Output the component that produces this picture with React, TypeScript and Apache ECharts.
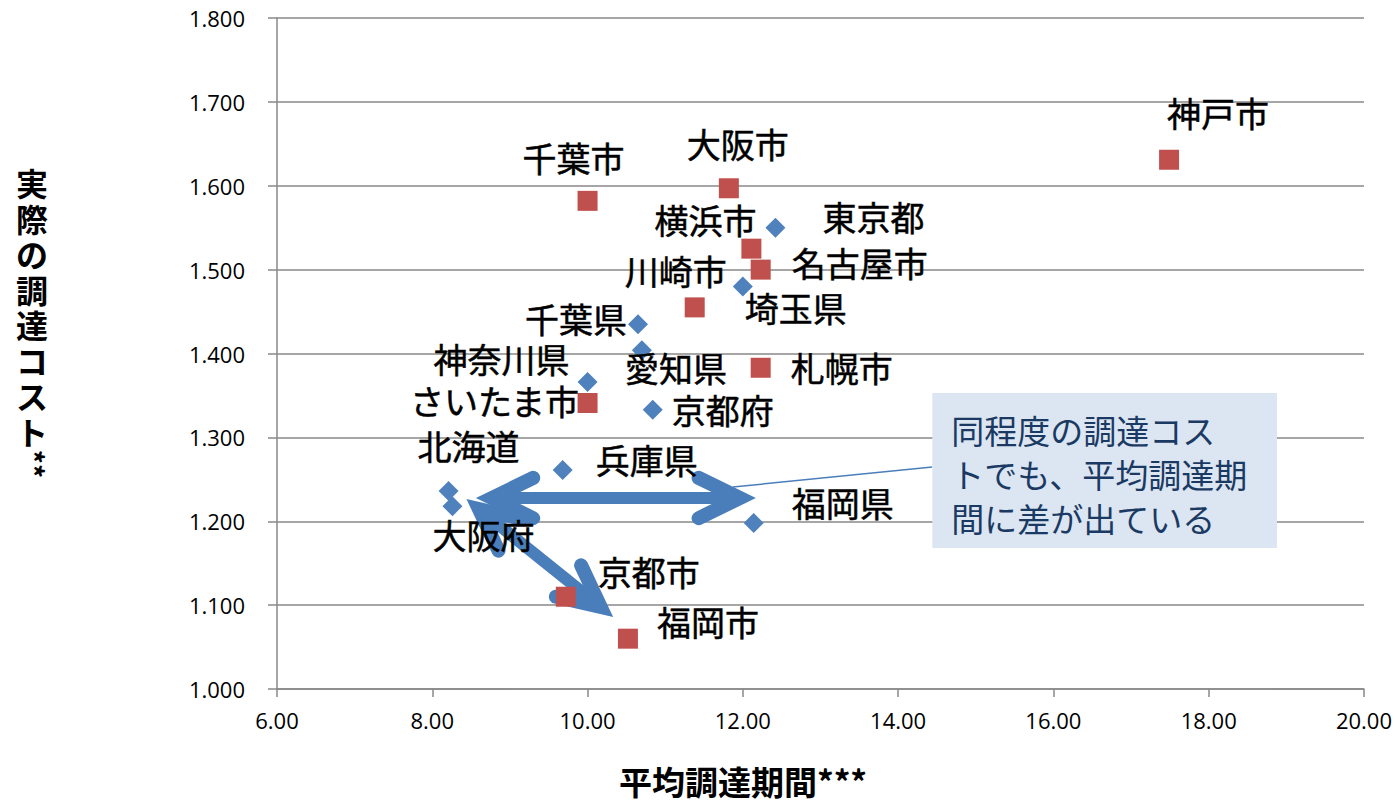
import React, { useEffect, useRef } from 'react';
import * as echarts from 'echarts';

// 都道府県（青・ひし形）
const prefNames = ['東京都', '埼玉県', '千葉県', '愛知県', '神奈川県', '京都府', '兵庫県', '北海道', '大阪府', '福岡県'];
const prefPeriod = [12.42, 12.0, 10.65, 10.7, 10.0, 10.84, 9.68, 8.21, 8.26, 12.14];
const prefCost = [1.55, 1.48, 1.435, 1.404, 1.366, 1.333, 1.261, 1.236, 1.218, 1.198];

// 政令市（赤・四角）
const cityNames = ['神戸市', '千葉市', '大阪市', '横浜市', '名古屋市', '川崎市', '札幌市', 'さいたま市', '京都市', '福岡市'];
const cityPeriod = [17.49, 10.0, 11.82, 12.11, 12.23, 11.38, 12.23, 10.0, 9.72, 10.52];
const cityCost = [1.631, 1.582, 1.597, 1.525, 1.5, 1.455, 1.383, 1.341, 1.11, 1.06];

const xAxisTitle = '平均調達期間***';
const yAxisTitleChars = ['実', '際', 'の', '調', '達', 'コ', 'ス', 'ト'];
const yAxisTitleTail = '**';
const calloutLines = ['同程度の調達コス', 'トでも、平均調達期', '間に差が出ている'];

// label placement (pixel offsets from each marker centre)
const labelOffsets: Record<string, [number, number]> = {
  東京都: [98, -11],
  埼玉県: [53, 21],
  千葉県: [-62, -6],
  愛知県: [34, 17],
  神奈川県: [-86, -24],
  京都府: [70, 0],
  兵庫県: [84, -11],
  北海道: [20, -46],
  大阪府: [31, 28],
  福岡県: [89, -20],
  神戸市: [49, -47],
  千葉市: [-14, -43],
  大阪市: [9, -45],
  横浜市: [-46, -29],
  名古屋市: [99, -7],
  川崎市: [-19, -37],
  札幌市: [81, 0],
  さいたま市: [-93, -2],
  京都市: [83, -25],
  福岡市: [80, -17],
};

// annotation geometry in data units
const hArrow = { from: [8.6, 1.2277], to: [12.13, 1.2277] };
const dArrow = { from: [8.47, 1.2242], to: [10.3, 1.0882] };
const calloutLeader = { from: [11.87, 1.2408], to: [14.44, 1.2647] };
const calloutBox = { topLeft: [14.44, 1.3528], bottomRight: [18.88, 1.168] };

const ARROW_COLOR = '#4a7ebb';
const CJK = '"Noto Sans CJK JP", "Noto Sans", sans-serif';
const NUM = '"Open Sans", "Liberation Sans", sans-serif';

function buildPoints(names: string[], xs: number[], ys: number[]) {
  return names.map((n, i) => {
    const off = labelOffsets[n] || [0, 0];
    return {
      name: n,
      value: [xs[i], ys[i]],
      label: { offset: off },
    };
  });
}

function arrowGraphics(p1: number[], p2: number[]) {
  // double-headed open arrow between two visual tips
  const dx = p2[0] - p1[0];
  const dy = p2[1] - p1[1];
  const len = Math.hypot(dx, dy);
  const ux = dx / len;
  const uy = dy / len;
  const inset = 13;
  const v1 = [p1[0] + ux * inset, p1[1] + uy * inset];
  const v2 = [p2[0] - ux * inset, p2[1] - uy * inset];
  const wingLen = 46;
  const half = (26 * Math.PI) / 180;
  const ang = Math.atan2(uy, ux);
  const wing = (v: number[], a: number) => [v[0] + Math.cos(a) * wingLen, v[1] + Math.sin(a) * wingLen];
  const head1 = [wing(v1, ang + half), v1, wing(v1, ang - half)];
  const back = ang + Math.PI;
  const head2 = [wing(v2, back + half), v2, wing(v2, back - half)];
  const style = { stroke: ARROW_COLOR, fill: null, lineWidth: 14, lineCap: 'round', lineJoin: 'miter' };
  return [
    {
      type: 'line',
      z: 1,
      shape: { x1: v1[0], y1: v1[1], x2: v2[0], y2: v2[1] },
      style: { stroke: ARROW_COLOR, lineWidth: 12, lineCap: 'butt' },
    },
    { type: 'polyline', z: 1, shape: { points: head1 }, style },
    { type: 'polyline', z: 1, shape: { points: head2 }, style },
  ];
}

export default function App() {
  const ref = useRef<HTMLDivElement>(null);

  useEffect(() => {
    if (!ref.current) return;
    const chart = echarts.init(ref.current, null, { renderer: 'svg' });

    const labelCommon = {
      show: true,
      position: 'inside',
      formatter: (p: any) => p.name,
      color: '#000',
      fontFamily: CJK,
      fontSize: 34,
      textBorderColor: '#000',
      textBorderWidth: 0.5,
      align: 'center',
      verticalAlign: 'middle',
    };

    chart.setOption({
      animation: false,
      backgroundColor: '#ffffff',
      grid: { left: 277, right: 30, top: 18, bottom: 116, containLabel: false },
      xAxis: {
        type: 'value',
        min: 6,
        max: 20,
        interval: 2,
        axisLine: { show: true, lineStyle: { color: '#888888', width: 1.5 } },
        axisTick: { show: true, length: 8, lineStyle: { color: '#888888', width: 1.5 } },
        axisLabel: {
          margin: 20,
          color: '#000',
          fontFamily: NUM,
          fontSize: 22,
          formatter: (v: number) => v.toFixed(2),
        },
        splitLine: { show: false },
      },
      yAxis: {
        type: 'value',
        min: 1.0,
        max: 1.8,
        interval: 0.1,
        axisLine: { show: true, lineStyle: { color: '#888888', width: 1.5 } },
        axisTick: { show: true, length: 9, lineStyle: { color: '#888888', width: 1.5 } },
        axisLabel: {
          margin: 32,
          color: '#000',
          fontFamily: NUM,
          fontSize: 22,
          formatter: (v: number) => v.toFixed(3),
        },
        splitLine: { show: true, lineStyle: { color: '#888888', width: 1.5 } },
      },
      series: [
        {
          name: '都道府県',
          type: 'scatter',
          symbol: 'diamond',
          symbolSize: 20,
          itemStyle: { color: '#4f81bd', opacity: 1 },
          label: labelCommon,
          data: buildPoints(prefNames, prefPeriod, prefCost),
          z: 3,
        },
        {
          name: '政令市',
          type: 'scatter',
          symbol: 'rect',
          symbolSize: 20,
          itemStyle: { color: '#c0504d', opacity: 1 },
          label: labelCommon,
          data: buildPoints(cityNames, cityPeriod, cityCost),
          z: 3,
        },
      ],
    });

    const px = (p: number[]) => chart.convertToPixel({ gridIndex: 0 }, p) as number[];

    const boxTL = px(calloutBox.topLeft);
    const boxBR = px(calloutBox.bottomRight);
    const lead1 = px(calloutLeader.from);
    const lead2 = px(calloutLeader.to);

    // vertical axis title: one upright glyph per row, trailing asterisks turned sideways
    const yTitleTop = 182;
    const yTitlePitch = 35.5;
    const yTitleGlyphs = yAxisTitleChars.map((c, i) => ({
      type: 'text',
      z: 50,
      x: 32,
      y: yTitleTop + i * yTitlePitch,
      style: {
        text: c,
        fill: '#000',
        font: `bold 32px ${CJK}`,
        lineHeight: 33,
        textAlign: 'center',
        textVerticalAlign: 'middle',
      },
    }));
    const yTitleTailGlyph = {
      type: 'text',
      z: 50,
      x: 34,
      y: yTitleTop + yAxisTitleChars.length * yTitlePitch - 2,
      rotation: -Math.PI / 2,
      style: {
        text: yAxisTitleTail,
        fill: '#000',
        font: `bold 28px ${CJK}`,
        lineHeight: 24,
        textAlign: 'center',
        textVerticalAlign: 'middle',
      },
    };

    chart.setOption({
      graphic: [
        ...arrowGraphics(px(hArrow.from), px(hArrow.to)),
        ...arrowGraphics(px(dArrow.from), px(dArrow.to)),
        {
          type: 'line',
          z: 1,
          shape: { x1: lead1[0], y1: lead1[1], x2: lead2[0], y2: lead2[1] },
          style: { stroke: ARROW_COLOR, lineWidth: 1.5 },
        },
        {
          type: 'rect',
          z: 101,
          shape: { x: boxTL[0], y: boxTL[1], width: boxBR[0] - boxTL[0], height: boxBR[1] - boxTL[1] },
          style: { fill: '#dce6f2', stroke: null },
        },
        {
          type: 'text',
          z: 102,
          x: boxTL[0] + 19,
          y: boxTL[1] + 15,
          style: {
            text: calloutLines.join('\n'),
            fill: '#1b3a63',
            font: `33px ${CJK}`,
            lineHeight: 44,
            textAlign: 'left',
            textVerticalAlign: 'top',
          },
        },
        {
          type: 'text',
          z: 50,
          x: 743,
          y: 781,
          style: {
            text: xAxisTitle,
            fill: '#000',
            font: `bold 33px ${CJK}`,
            lineHeight: 33,
            textAlign: 'center',
            textVerticalAlign: 'middle',
          },
        },
        ...yTitleGlyphs,
        yTitleTailGlyph,
      ],
    });

    return () => {
      chart.dispose();
    };
  }, []);

  return (
    <div
      ref={ref}
      style={{ position: 'fixed', left: 0, top: 0, width: 1395, height: 805, background: '#fff' }}
    />
  );
}
